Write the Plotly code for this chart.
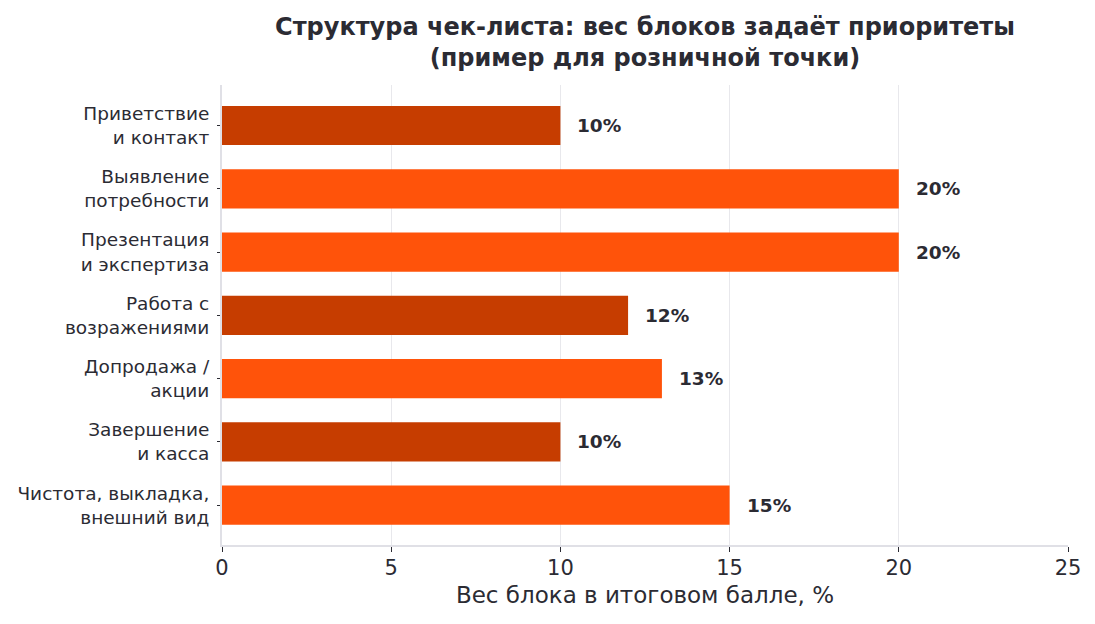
import plotly.graph_objects as go

categories = [
    "Приветствие<br>и контакт",
    "Выявление<br>потребности",
    "Презентация<br>и экспертиза",
    "Работа с<br>возражениями",
    "Допродажа /<br>акции",
    "Завершение<br>и касса",
    "Чистота, выкладка,<br>внешний вид",
]
weights = [10, 20, 20, 12, 13, 10, 15]
bar_colors = ["#C63D00", "#FF530A", "#FF530A", "#C63D00", "#FF530A", "#C63D00", "#FF530A"]
x_ticks = [0, 5, 10, 15, 20, 25]

fig = go.Figure()
fig.add_trace(go.Bar(
    y=categories, x=weights, orientation="h",
    marker=dict(color=bar_colors, line=dict(width=0)),
    width=0.62, hoverinfo="skip",
))
for c, w in zip(categories, weights):
    fig.add_annotation(x=w, y=c, text=f"<b>{w}%</b>", showarrow=False,
                       xanchor="left", xshift=15,
                       font=dict(family="DejaVu Sans", size=18.5, color="#2b2b33"))

fig.update_layout(
    width=1095, height=624,
    margin=dict(l=222, r=27, t=85, b=79),
    paper_bgcolor="white", plot_bgcolor="white",
    showlegend=False,
    title=dict(text="<b>Структура чек-листа: вес блоков задаёт приоритеты<br>(пример для розничной точки)</b>",
               x=0.5, xref="paper", xanchor="center", y=0.944, yanchor="top",
               font=dict(family="DejaVu Sans", size=24, color="#2b2b33")),
    font=dict(family="DejaVu Sans", color="#2b2b33"),
)
fig.update_xaxes(
    range=[0, 25], tickvals=x_ticks, ticktext=[str(v) for v in x_ticks],
    showgrid=True, gridcolor="#e8e8ec", gridwidth=1,
    showline=True, linecolor="#e0e0e6", linewidth=2,
    ticks="outside", ticklen=5, tickcolor="#2b2b33", tickwidth=1,
    tickfont=dict(size=21, color="#2b2b33"),
    title=dict(text="Вес блока в итоговом балле, %", font=dict(size=23, color="#2b2b33"), standoff=8),
    zeroline=False,
    ticklabelstandoff=-2,
)
fig.update_yaxes(
    autorange=False, range=[6.63, -0.64],
    categoryorder="array", categoryarray=categories,
    showgrid=False, showline=True, linecolor="#e0e0e6", linewidth=2,
    ticks="outside", ticklen=3, tickcolor="#2b2b33", tickwidth=1,
    tickfont=dict(size=18.5, color="#2b2b33"),
    ticklabelstandoff=4,
)
fig.write_html("out.html")
